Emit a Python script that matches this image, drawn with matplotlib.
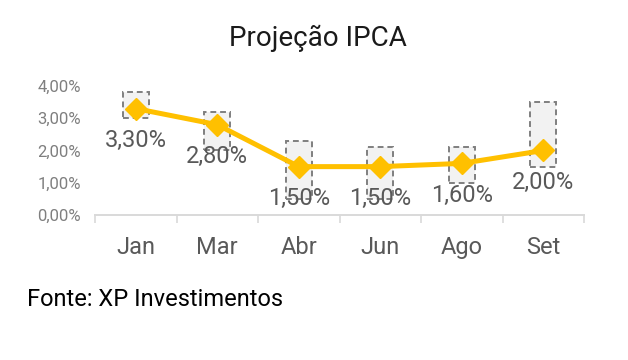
"""Projeção IPCA: linha com faixas (caixas tracejadas) por mês."""
import matplotlib
matplotlib.use("Agg")
import matplotlib.pyplot as plt

plt.rcParams["font.family"] = ["Roboto", "DejaVu Sans"]

meses = ["Jan", "Mar", "Abr", "Jun", "Ago", "Set"]
projecao = [3.30, 2.80, 1.50, 1.50, 1.60, 2.00]
faixa_min = [3.00, 2.00, 0.50, 0.50, 1.00, 1.50]
faixa_max = [3.80, 3.20, 2.30, 2.10, 2.10, 3.50]
yticks = [0, 1, 2, 3, 4]

AMARELO = "#FFC000"
CINZA = "#595959"

fig = plt.figure(figsize=(6.28, 3.6), dpi=100)
ax = fig.add_axes([0.1513, 0.4028, 0.7787, 0.3583])

x = list(range(len(meses)))

# caixas com a faixa de projeções
alturas = [hi - lo for lo, hi in zip(faixa_min, faixa_max)]
ax.bar(x, alturas, bottom=faixa_min, width=0.32, color="#F2F2F2",
       edgecolor="#7F7F7F", linestyle=(0, (3, 2)), linewidth=1.4, zorder=2)

ax.plot(x, projecao, color=AMARELO, linewidth=3.6, marker="D",
        markersize=11.5, zorder=4)

for xi, v in zip(x, projecao):
    ax.annotate(f"{v:.2f}%".replace(".", ","), (xi, v),
                textcoords="offset points", xytext=(0, -23),
                ha="center", va="center", fontsize=17, color=CINZA,
                zorder=3)

ax.set_xlim(-0.5, len(meses) - 0.5)
ax.set_ylim(0, 4)
ax.set_yticks(yticks)
ax.set_yticklabels([f"{t:.2f}%".replace(".", ",") for t in yticks],
                   fontsize=12, color="#7F7F7F")
ax.set_xticks(x)
ax.set_xticklabels(meses, fontsize=17, color=CINZA)
ax.set_xticks([i - 0.5 for i in range(len(meses) + 1)], minor=True)
ax.tick_params(axis="x", which="major", length=0, pad=15)
ax.tick_params(axis="x", which="minor", length=6, width=1.2,
               color="#D9D9D9")
ax.tick_params(axis="y", length=0, pad=10)

for s in ["top", "right", "left"]:
    ax.spines[s].set_visible(False)
ax.spines["bottom"].set_color("#D9D9D9")
ax.spines["bottom"].set_linewidth(1.4)

fig.text(0.507, 0.894, "Projeção IPCA", ha="center", va="center",
         fontsize=20, color="#1A1A1A")
fig.text(0.043, 0.169, "Fonte: XP Investimentos", ha="left", va="center",
         fontsize=17, color="black")

fig.savefig("out.png", dpi=100)
